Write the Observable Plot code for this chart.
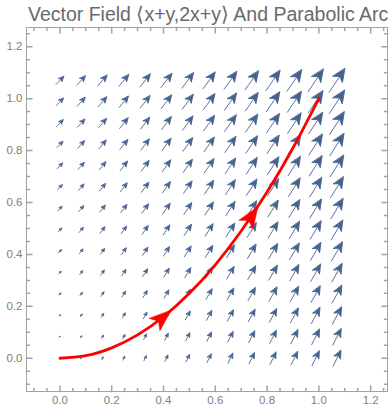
<!DOCTYPE html>
<html>
<head>
<meta charset="utf-8">
<script src="https://cdn.jsdelivr.net/npm/d3@7"></script>
<script src="https://cdn.jsdelivr.net/npm/@observablehq/plot@0.6"></script>
<style>
  body { margin: 0; background: #fff; }
  #title {
    box-sizing: border-box; height: 26px; padding: 3px 0 0 28px;
    font: 19.5px "Liberation Sans", Arial, sans-serif; line-height: 22px;
    color: #6a6a6a; white-space: nowrap;
  }
  #chart svg { display: block; }
</style>
</head>
<body>
<div id="title">Vector Field ⟨x+y,2x+y⟩ And Parabolic Arc</div>
<div id="chart"></div>
<script>
// Sample points of the vector field (same values on both axes)
const gridX = [0, 0.0823, 0.1646, 0.2469, 0.3292, 0.4115, 0.4938, 0.5762, 0.6585, 0.7408, 0.8231, 0.9054, 0.9877, 1.07];
const gridY = [0, 0.0823, 0.1646, 0.2469, 0.3292, 0.4115, 0.4938, 0.5762, 0.6585, 0.7408, 0.8231, 0.9054, 0.9877, 1.07];

// The parabolic arc y = x², from (0,0) to (1,1)
const arcX = [0, 0.1, 0.2, 0.3, 0.4, 0.5, 0.6, 0.7, 0.8, 0.9, 1.0];
const arcY = [0, 0.01, 0.04, 0.09, 0.16, 0.25, 0.36, 0.49, 0.64, 0.81, 1.0];

// Direction markers along the arc (tip position and heading, degrees clockwise from north)
const arcHeadX = [0.43, 0.765];
const arcHeadY = [0.185, 0.585];
const arcHeadAngle = [49.3, 33.2];

// Frame ticks
const majorTicks = [0, 0.2, 0.4, 0.6, 0.8, 1.0, 1.2];
const minorTicks = [-0.1, -0.05, 0.05, 0.1, 0.15, 0.25, 0.3, 0.35, 0.45, 0.5, 0.55, 0.65, 0.7, 0.75,
                    0.85, 0.9, 0.95, 1.05, 1.1, 1.15, 1.25];

const fieldColor = "#46618f";
const arcColor = "#ff0000";
const frameColor = "#a3a3a3";
const labelColor = "#808080";

// F(x, y) = ⟨x + y, 2x + y⟩ at every grid point
const field = gridX.flatMap(x => gridY.map(y => ({x, y, u: x + y, v: 2 * x + y})));
const arc = arcX.map((x, i) => ({x, y: arcY[i]}));
const arcHeads = arcHeadX.map((x, i) => ({x, y: arcHeadY[i], angle: arcHeadAngle[i]}));

// Thin shaft with a filled, swept-back head
const fieldArrow = {
  draw(ctx, l) {
    const h = 0.46 * l, w = 0.2 * l, n = 0.33 * l;
    ctx.moveTo(0, 0);
    ctx.lineTo(0, -l + n);
    ctx.moveTo(0, -l);
    ctx.lineTo(w, -l + h);
    ctx.lineTo(0, -l + n);
    ctx.lineTo(-w, -l + h);
    ctx.closePath();
  }
};

// Head only, used on the arc
const arcHead = {
  draw(ctx, l) {
    const w = 0.37 * l;
    ctx.moveTo(0, -l);
    ctx.lineTo(w, 0);
    ctx.lineTo(0, -0.24 * l);
    ctx.lineTo(-w, 0);
    ctx.closePath();
  }
};

// Straight segment for frame ticks
const tickLine = {
  draw(ctx, l) { ctx.moveTo(0, 0); ctx.lineTo(0, -l); }
};

const inwardTicks = (values, len) => [
  Plot.vectorX(values, {frameAnchor: "bottom", rotate: 0, length: len, anchor: "start", shape: tickLine, stroke: frameColor}),
  Plot.vectorX(values, {frameAnchor: "top", rotate: 180, length: len, anchor: "start", shape: tickLine, stroke: frameColor}),
  Plot.vectorY(values, {frameAnchor: "left", rotate: 90, length: len, anchor: "start", shape: tickLine, stroke: frameColor}),
  Plot.vectorY(values, {frameAnchor: "right", rotate: -90, length: len, anchor: "start", shape: tickLine, stroke: frameColor})
];

const chart = Plot.plot({
  width: 390,
  height: 379,
  marginTop: 1,
  marginBottom: 14,
  marginLeft: 26,
  marginRight: 3,
  x: {domain: [-0.129, 1.265]},
  y: {domain: [-0.128, 1.274]},
  length: {domain: [0, 1], range: [0, 7.44]},
  style: {fontFamily: "'Liberation Sans', Arial, sans-serif", fontSize: "11.5px", color: labelColor, background: "#fff"},
  marks: [
    Plot.vector(field, {
      x: "x", y: "y",
      length: d => Math.hypot(d.u, d.v),
      rotate: d => Math.atan2(d.u, d.v) * 180 / Math.PI,
      anchor: "middle",
      shape: fieldArrow,
      stroke: fieldColor, fill: fieldColor, strokeWidth: 0.8
    }),
    Plot.line(arc, {x: "x", y: "y", curve: "natural", stroke: arcColor, strokeWidth: 2.8}),
    Plot.vector(arcHeads, {
      x: "x", y: "y", rotate: "angle", length: 22, anchor: "end",
      shape: arcHead, fill: arcColor, stroke: arcColor, strokeWidth: 0.5
    }),
    Plot.frame({stroke: frameColor}),
    ...inwardTicks(majorTicks, 5.5),
    ...inwardTicks(minorTicks, 3),
    Plot.axisX(majorTicks, {anchor: "bottom", tickSize: 0, tickPadding: 4, tickFormat: d => d.toFixed(1), label: null}),
    Plot.axisY(majorTicks, {anchor: "left", tickSize: 0, tickPadding: 4, tickFormat: d => d.toFixed(1), label: null})
  ]
});

document.getElementById("chart").appendChild(chart);
</script>
</body>
</html>
